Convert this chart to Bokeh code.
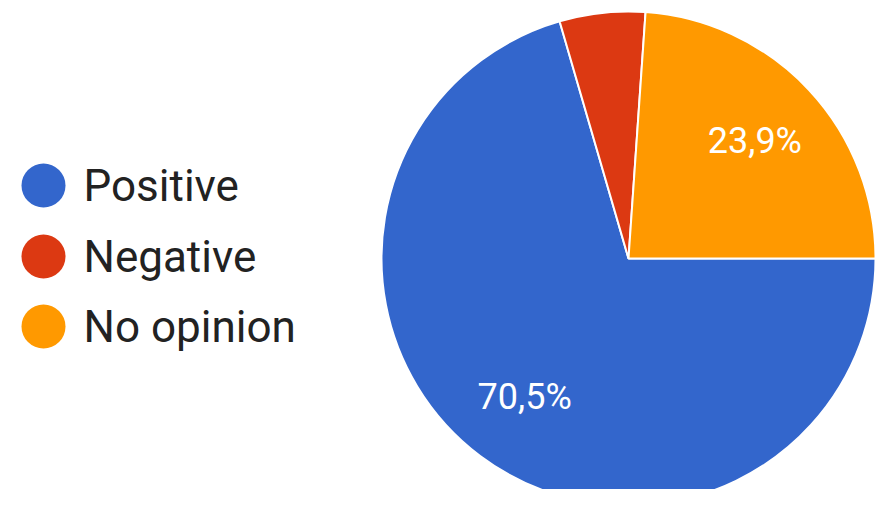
import math
import numpy as np
from bokeh.plotting import figure
from bokeh.models import Range1d, ColumnDataSource
from bokeh.core.properties import value
from bokeh.embed import file_html
from bokeh.resources import INLINE

categories = ["Positive", "Negative", "No opinion"]
shares = [70.5, 5.6, 23.9]
colors = ["#3366cc", "#dc3912", "#ff9900"]

W, H = 876, 489
p = figure(width=W, height=H, output_backend="svg", toolbar_location=None,
           x_range=Range1d(0, W), y_range=Range1d(0, H), min_border=0)
p.axis.visible = False
p.grid.visible = False
p.outline_line_color = None
p.background_fill_color = "white"

cx, cy, r = 628, H - 258, 247
total = sum(shares)
cum = np.cumsum([0] + shares) / total
starts = [-2 * math.pi * c for c in cum[:-1]]
ends = [-2 * math.pi * c for c in cum[1:]]
src = ColumnDataSource(dict(start=starts, end=ends, color=colors))
p.wedge(x=cx, y=cy, radius=r, start_angle="start", end_angle="end",
        direction="clock", fill_color="color", line_color="white",
        line_width=2, source=src)

# slice labels
lx, ly, lt = [], [], []
for s, e, v in zip(starts, ends, shares):
    if v / total < 0.1:
        continue
    mid = (s + e) / 2
    lx.append(cx + 0.7 * r * math.cos(mid))
    ly.append(cy + 0.7 * r * math.sin(mid))
    lt.append(f"{v:.1f}%".replace(".", ","))
p.text(x=lx, y=ly, text=lt, text_color="white", text_align="center",
       text_baseline="middle", text_font=value("Roboto"),
       text_font_size="36px")

# legend
ys = [H - 185, H - 256, H - 326]
p.scatter(x=[43] * 3, y=ys, size=44, marker="circle", fill_color=colors,
          line_color=None)
p.text(x=[83] * 3, y=ys, text=categories, text_color="#222222",
       text_baseline="middle", text_font=value("Roboto"),
       text_font_size="44px")

open("out.html", "w").write(file_html(p, INLINE))
